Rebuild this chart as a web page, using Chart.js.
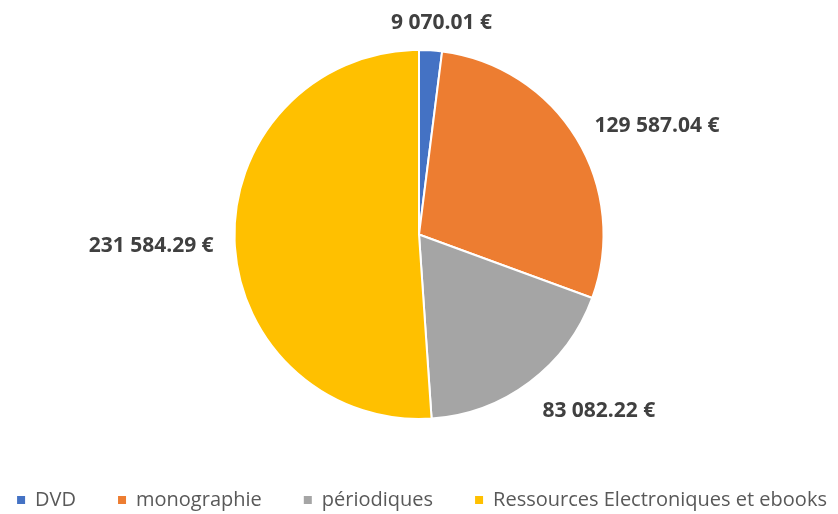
<!DOCTYPE html>
<html>
<head>
<meta charset="utf-8">
<script src="https://cdn.jsdelivr.net/npm/chart.js@4"></script>
<style>
  body { margin: 0; background: #fff; }
</style>
</head>
<body>
<canvas id="grafico" width="838" height="514"></canvas>
<script>
const categories = ['DVD', 'monographie', 'périodiques', 'Ressources Electroniques et ebooks'];
const amounts = [9070.01, 129587.04, 83082.22, 231584.29];
const colors = ['#4472C4', '#ED7D31', '#A5A5A5', '#FFC000'];

function fmtEuro(v) {
    const parts = v.toFixed(2).split('.');
    return parts[0].replace(/\B(?=(\d{3})+(?!\d))/g, ' ') + '.' + parts[1] + ' €';
}

function clamp(v) { return Math.max(-1, Math.min(1, v)); }

// labels outside the slices, like Excel "outside end"
const outLabels = {
    id: 'outLabels',
    afterDatasetsDraw(chart) {
        const ctx = chart.ctx;
        const meta = chart.getDatasetMeta(0);
        ctx.save();
        ctx.font = 'bold 21px "Open Sans"';
        ctx.fillStyle = '#404040';
        ctx.textAlign = 'center';
        ctx.textBaseline = 'middle';
        meta.data.forEach((arc, i) => {
            const p = arc.getProps(['x', 'y', 'startAngle', 'endAngle', 'outerRadius']);
            const a = (p.startAngle + p.endAngle) / 2;
            const r = p.outerRadius + 21;
            const ax = p.x + Math.cos(a) * r;
            const ay = p.y + Math.sin(a) * r;
            const txt = fmtEuro(chart.data.datasets[0].data[i]);
            const w = ctx.measureText(txt).width;
            const h = 20;
            ctx.fillText(txt, ax + clamp(Math.cos(a) * 3) * w / 2, ay + Math.sin(a) * h / 2 + 4);
        });
        ctx.restore();
    }
};

// legend row at the bottom
const bottomLegend = {
    id: 'bottomLegend',
    afterDraw(chart) {
        const ctx = chart.ctx;
        const ds = chart.data.datasets[0];
        const box = 8, gap = 10, spacing = 42, y = 500;
        ctx.save();
        ctx.font = '20px "Open Sans"';
        ctx.textBaseline = 'middle';
        const widths = chart.data.labels.map(l => ctx.measureText(l).width);
        const total = widths.reduce((s, w) => s + box + gap + w, 0) + spacing * (widths.length - 1);
        let x = (chart.width - total) / 2 + 3;
        chart.data.labels.forEach((l, i) => {
            ctx.fillStyle = ds.backgroundColor[i];
            ctx.fillRect(x, y - box / 2, box, box);
            ctx.fillStyle = '#595959';
            ctx.fillText(l, x + box + gap, y);
            x += box + gap + widths[i] + spacing;
        });
        ctx.restore();
    }
};

new Chart(document.getElementById('grafico'), {
    type: 'pie',
    data: {
        labels: categories,
        datasets: [{
            data: amounts,
            backgroundColor: colors,
            borderColor: '#ffffff',
            borderWidth: 2
        }]
    },
    options: {
        responsive: false,
        animation: false,
        layout: { padding: { top: 49, bottom: 94, left: 0, right: 0 } },
        plugins: {
            legend: { display: false },
            tooltip: { enabled: false }
        }
    },
    plugins: [outLabels, bottomLegend]
});
</script>
</body>
</html>
